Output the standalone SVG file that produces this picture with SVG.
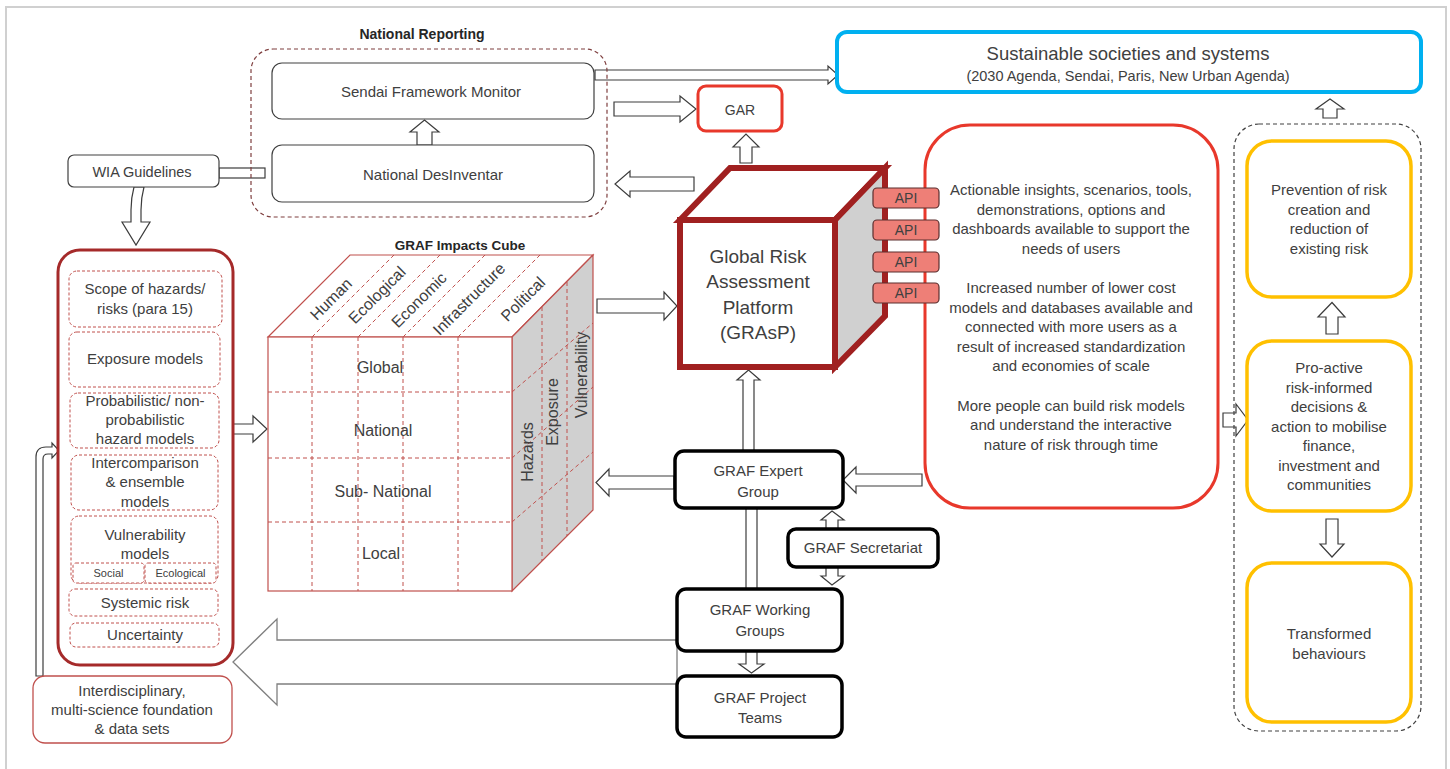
<svg xmlns="http://www.w3.org/2000/svg" width="1450" height="769" viewBox="0 0 1450 769">
<defs>
<style>
.t{font-family:"Liberation Sans",Arial,sans-serif;fill:#404040;text-anchor:middle}
.s15{font-size:15px}
.s16{font-size:16px}
.b{font-weight:bold;fill:#262626}
.ar{fill:#fff;stroke:#3c3c3c;stroke-width:1.2;stroke-linejoin:miter}
.sub{fill:#fff;stroke:#c0504d;stroke-width:1;stroke-dasharray:3 2}
.grid{stroke:#c0504d;stroke-width:1;stroke-dasharray:4 3;fill:none}
.gb{fill:#fff;stroke:#000;stroke-width:3.5}
.yb{fill:#fff;stroke:#ffc000;stroke-width:3.5}
.api{fill:#ee7f77;stroke:#5a2e2e;stroke-width:1.2}
.wb{fill:#fff;stroke:#404040;stroke-width:1.2}
</style>
</defs>
<rect x="0" y="0" width="1450" height="769" fill="#fff"/>
<path d="M6 769 V7 H1446 V769" fill="none" stroke="#d0d0d0" stroke-width="2"/>

<g id="connectors">
  <polygon class="ar" points="417,145 417,132 410,132 424.5,120 439,132 432,132 432,145"/>
  <polygon class="ar" points="595,70 828,70 828,66 838,75 828,84 828,80 595,80"/>
  <polygon class="ar" points="614,102 680,102 680,96 696,109 680,122 680,116 614,116"/>
  <polygon class="ar" points="694,177 630,177 630,171 615,184 630,197 630,191 694,191"/>
  <polygon class="ar" points="740,163 740,147 733,147 746,134 759,147 752,147 752,163"/>
  <polygon class="ar" points="597,299 664,299 664,292 677,306 664,320 664,313 597,313"/>
  <polygon class="ar" points="743,451 743,380 737,380 748.5,370 760,380 754,380 754,451"/>
  <polygon class="ar" points="674,476 609,476 609,469 596,482.5 609,496 609,489 674,489"/>
  <polygon class="ar" points="922,474 856,474 856,467 843,480 856,493 856,486 922,486"/>
  <line x1="746" y1="508" x2="746" y2="589" stroke="#3c3c3c" stroke-width="1.2"/>
  <line x1="757" y1="508" x2="757" y2="589" stroke="#3c3c3c" stroke-width="1.2"/>
  <polygon class="ar" points="832,511 844,520 838,520 838,576 844,576 832,585 821,576 826,576 826,520 821,520"/>
  <polygon class="ar" points="746,651 746,664 739,664 751.5,673 764,664 757,664 757,651"/>
  <polygon points="677,640 277,640 277,619 233,662 277,705 277,684 677,684" fill="#fff" stroke="#7f7f7f" stroke-width="1.3"/>
  <polygon class="ar" points="232,424 253,424 253,416 267,429 253,442 253,434 232,434"/>
  <rect x="219" y="168" width="46" height="10" class="ar"/>
  <path class="ar" d="M134 187 Q131 198 131 210 L131 222 L122 222 L136 245 L150 222 L141 222 L141 210 Q141 198 144 187 Z"/>
  <path class="ar" d="M36 676 V457 Q36 447 46 447 H52 V443 L59 450.5 L52 458 V454 H48 Q43 454 43 459 V676 Z"/>
  <polygon class="ar" points="1223,413 1236,413 1236,404 1248,420 1236,436 1236,427 1223,427"/>
  <polygon class="ar" points="1326,334 1326,317 1318,317 1332,302.5 1345,317 1338,317 1338,334"/>
  <polygon class="ar" points="1326,519 1326,544 1320,544 1332,557 1344,544 1338,544 1338,519"/>
  <polygon class="ar" points="1323,118 1323,109 1316,109 1330,99 1344,109 1337,109 1337,118"/>
</g>

<g id="national-reporting">
  <text class="t b" x="422" y="39" font-size="14">National Reporting</text>
  <rect x="251" y="49" width="356" height="168" rx="22" fill="none" stroke="#7f3f3f" stroke-width="1.2" stroke-dasharray="4 3"/>
</g>
<g id="sendai">
  <rect class="wb" x="272" y="63" width="322" height="56" rx="10"/>
  <text class="t s15" x="431" y="97">Sendai Framework Monitor</text>
</g>
<g id="desinventar">
  <rect class="wb" x="272" y="145" width="322" height="57" rx="10"/>
  <text class="t s15" x="433" y="180">National DesInventar</text>
</g>
<g id="wia">
  <rect class="wb" x="68" y="155" width="151" height="32" rx="6"/>
  <text class="t" x="142" y="176.5" font-size="14.5">WIA Guidelines</text>
</g>
<g id="gar">
  <rect x="698" y="86" width="84" height="45" rx="8" fill="#fff" stroke="#e8382b" stroke-width="3"/>
  <text class="t" x="740" y="115" font-size="14">GAR</text>
</g>
<g id="sustainable">
  <rect x="837" y="32" width="584" height="60" rx="10" fill="#fff" stroke="#00b0f0" stroke-width="4"/>
  <text class="t" x="1128" y="59.5" font-size="18.5">Sustainable societies and systems</text>
  <text class="t" x="1128" y="81" font-size="14.5">(2030  Agenda, Sendai, Paris, New Urban Agenda)</text>
</g>

<g id="left-list">
  <rect x="58" y="250" width="175" height="415" rx="22" fill="#fff" stroke="#a52a2a" stroke-width="3"/>
  <rect class="sub" x="69" y="271" width="153" height="56" rx="8"/>
  <text class="t s15" x="145" y="294">Scope of hazards/</text>
  <text class="t s15" x="145" y="314">risks (para 15)</text>
  <rect class="sub" x="69" y="332" width="151" height="55" rx="8"/>
  <text class="t s15" x="145" y="364">Exposure models</text>
  <rect class="sub" x="70" y="393" width="149" height="55" rx="8"/>
  <text class="t s15" x="145" y="406">Probabilistic/ non-</text>
  <text class="t s15" x="145" y="425">probabilistic</text>
  <text class="t s15" x="145" y="444">hazard models</text>
  <rect class="sub" x="71" y="455" width="147" height="55" rx="8"/>
  <text class="t s15" x="145" y="468">Intercomparison</text>
  <text class="t s15" x="145" y="487">&amp; ensemble</text>
  <text class="t s15" x="145" y="507">models</text>
  <rect class="sub" x="71" y="516" width="147" height="67" rx="8"/>
  <text class="t s15" x="145" y="540">Vulnerability</text>
  <text class="t s15" x="145" y="559">models</text>
  <rect class="sub" x="73" y="563" width="71" height="20" rx="3"/>
  <text class="t" x="108.5" y="577" font-size="11">Social</text>
  <rect class="sub" x="145" y="563" width="71" height="20" rx="3"/>
  <text class="t" x="180.5" y="577" font-size="11">Ecological</text>
  <rect class="sub" x="69" y="589" width="149" height="27" rx="6"/>
  <text class="t s15" x="145" y="608">Systemic risk</text>
  <rect class="sub" x="70" y="623" width="149" height="24" rx="6"/>
  <text class="t s15" x="145" y="640">Uncertainty</text>
</g>

<g id="interdisciplinary">
  <rect x="33" y="676" width="199" height="67" rx="12" fill="#fff" stroke="#c0504d" stroke-width="1.3"/>
  <text class="t s15" x="132" y="696">Interdisciplinary,</text>
  <text class="t s15" x="132" y="715">multi-science foundation</text>
  <text class="t s15" x="132" y="734">&amp; data sets</text>
</g>

<g id="impacts-cube">
  <text class="t b" x="460" y="250" font-size="13.5">GRAF Impacts Cube</text>
  <polygon points="268,337 350,255 593,255 512,337" fill="#fff" stroke="#c0504d" stroke-width="1.2"/>
  <polygon points="512,337 593,255 593,510 512,591" fill="#d0d0d0" stroke="#c0504d" stroke-width="1.2"/>
  <rect x="268" y="337" width="244" height="254" fill="#fff" stroke="#c0504d" stroke-width="1.2"/>
  <g class="grid">
    <path d="M312 337 V591 M358 337 V591 M403 337 V591 M458 337 V591"/>
    <path d="M268 392 H512 M268 458 H512 M268 522 H512"/>
    <path d="M312 337 L394 255 M358 337 L440 255 M403 337 L485 255 M458 337 L540 255"/>
    <path d="M542 307 V561 M567 282 V536"/>
    <path d="M512 392 L593 323 M512 458 L593 387 M512 522 L593 452"/>
  </g>
  <text class="t s16" x="380" y="373">Global</text>
  <text class="t s16" x="383" y="436">National</text>
  <text class="t s16" x="383" y="497">Sub- National</text>
  <text class="t s16" x="381" y="559">Local</text>
  <text class="t s16" x="331" y="304.5" transform="rotate(-45 331 299)">Human</text>
  <text class="t s16" x="377" y="300.5" transform="rotate(-45 377 295)">Ecological</text>
  <text class="t s16" x="419" y="305.5" transform="rotate(-45 419 300)">Economic</text>
  <text class="t s16" x="469" y="304.5" transform="rotate(-45 469 299)">Infrastructure</text>
  <text class="t s16" x="523" y="304.5" transform="rotate(-45 523 299)">Political</text>
  <text class="t s16" x="527" y="457.5" transform="rotate(-90 527 452)">Hazards</text>
  <text class="t s16" x="552" y="417.5" transform="rotate(-90 552 412)">Exposure</text>
  <text class="t s16" x="581" y="380.5" transform="rotate(-90 581 375)">Vulnerability</text>
</g>

<g id="outcomes">
  <rect x="925" y="125" width="293" height="383" rx="45" fill="#fff" stroke="#e8382b" stroke-width="3"/>
  <text class="t s15" x="1071" y="195">Actionable insights, scenarios, tools,</text>
  <text class="t s15" x="1071" y="214.5">demonstrations, options and</text>
  <text class="t s15" x="1071" y="234">dashboards available to support the</text>
  <text class="t s15" x="1071" y="253.5">needs of users</text>
  <text class="t s15" x="1071" y="293">Increased number of lower cost</text>
  <text class="t s15" x="1071" y="312.5">models and databases available and</text>
  <text class="t s15" x="1071" y="332">connected with more users as a</text>
  <text class="t s15" x="1071" y="351.5">result of increased standardization</text>
  <text class="t s15" x="1071" y="371">and economies of scale</text>
  <text class="t s15" x="1071" y="410.5">More people can build risk models</text>
  <text class="t s15" x="1071" y="430">and understand the interactive</text>
  <text class="t s15" x="1071" y="449.5">nature of risk through time</text>
</g>

<g id="grasp">
  <polygon points="680,220 730,168 885,168 835,220" fill="#fff" stroke="#a02020" stroke-width="6"/>
  <polygon points="835,220 885,168 885,316 835,367" fill="#d0d0d0" stroke="#a02020" stroke-width="6"/>
  <rect x="680" y="220" width="155" height="147" fill="#fff" stroke="#a02020" stroke-width="6"/>
  <text class="t" x="758" y="262.5" font-size="19">Global Risk</text>
  <text class="t" x="758" y="288" font-size="19">Assessment</text>
  <text class="t" x="758" y="313.5" font-size="19">Platform</text>
  <text class="t" x="758" y="339" font-size="19">(GRAsP)</text>
</g>
<g id="apis">
  <rect class="api" x="873" y="188" width="66" height="20" rx="4"/>
  <text class="t" x="906" y="203" font-size="14" fill="#262626">API</text>
  <rect class="api" x="873" y="220" width="66" height="20" rx="4"/>
  <text class="t" x="906" y="235" font-size="14" fill="#262626">API</text>
  <rect class="api" x="873" y="252" width="66" height="20" rx="4"/>
  <text class="t" x="906" y="267" font-size="14" fill="#262626">API</text>
  <rect class="api" x="873" y="283" width="66" height="20" rx="4"/>
  <text class="t" x="906" y="298" font-size="14" fill="#262626">API</text>
</g>

<g id="graf-expert">
  <rect class="gb" x="675" y="451" width="168" height="57" rx="9"/>
  <text class="t s15" x="758" y="476">GRAF Expert</text>
  <text class="t s15" x="758" y="497">Group</text>
</g>
<g id="graf-secretariat">
  <rect class="gb" x="788" y="529" width="150" height="38" rx="8"/>
  <text class="t s15" x="863" y="553">GRAF Secretariat</text>
</g>
<g id="graf-working">
  <rect class="gb" x="677" y="589" width="165" height="62" rx="9"/>
  <text class="t s15" x="760" y="615">GRAF Working</text>
  <text class="t s15" x="760" y="636">Groups</text>
</g>
<g id="graf-project">
  <rect class="gb" x="677" y="676" width="165" height="61" rx="9"/>
  <text class="t s15" x="760" y="703">GRAF Project</text>
  <text class="t s15" x="760" y="723">Teams</text>
</g>

<g id="impact-column">
  <rect x="1234" y="124" width="187" height="607" rx="25" fill="none" stroke="#404040" stroke-width="1.2" stroke-dasharray="4 3"/>
</g>
<g id="prevention">
  <rect class="yb" x="1247" y="141" width="164" height="156" rx="25"/>
  <text class="t s15" x="1329" y="195">Prevention of risk</text>
  <text class="t s15" x="1329" y="214.5">creation and</text>
  <text class="t s15" x="1329" y="234">reduction of</text>
  <text class="t s15" x="1329" y="254">existing risk</text>
</g>
<g id="proactive">
  <rect class="yb" x="1247" y="341" width="164" height="170" rx="25"/>
  <text class="t s15" x="1329" y="373">Pro-active</text>
  <text class="t s15" x="1329" y="392.5">risk-informed</text>
  <text class="t s15" x="1329" y="412">decisions &amp;</text>
  <text class="t s15" x="1329" y="431.5">action to mobilise</text>
  <text class="t s15" x="1329" y="451">finance,</text>
  <text class="t s15" x="1329" y="470.5">investment and</text>
  <text class="t s15" x="1329" y="490">communities</text>
</g>
<g id="transformed">
  <rect class="yb" x="1247" y="563" width="164" height="159" rx="25"/>
  <text class="t s15" x="1329" y="639">Transformed</text>
  <text class="t s15" x="1329" y="658.5">behaviours</text>
</g>
</svg>
